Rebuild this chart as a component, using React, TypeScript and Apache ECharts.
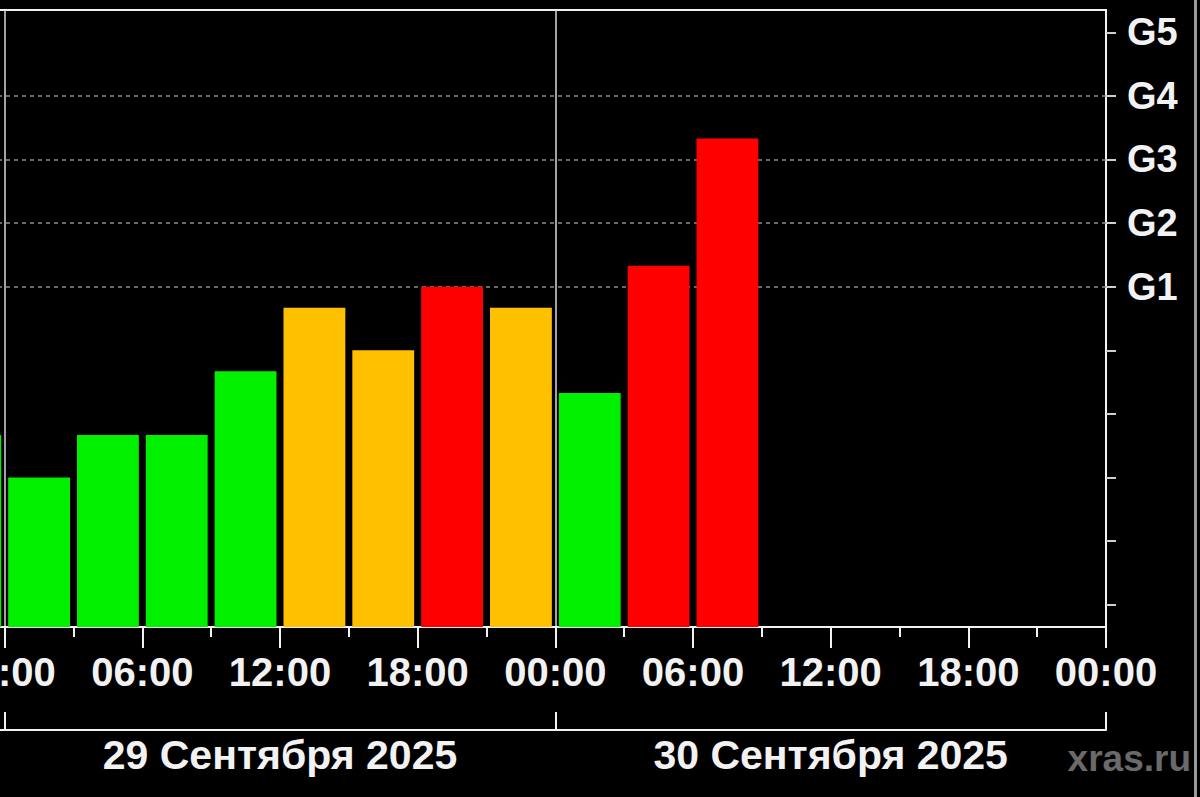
import { useEffect, useRef } from 'react';
import * as echarts from 'echarts';

// Kp index per 3-hour slot, start hour counted from 29 Sep 2025 00:00
const slotStarts = [-3, 0, 3, 6, 9, 12, 15, 18, 21, 24, 27, 30];
const kpValues = [2.67, 2.0, 2.67, 2.67, 3.67, 4.67, 4.0, 5.0, 4.67, 3.33, 5.33, 7.33];
const dayLabels = ['28 Сентября 2025', '29 Сентября 2025', '30 Сентября 2025'];
const kpTicks = [0, 1, 2, 3, 4, 5, 6, 7, 8, 9];
const stormLevels = [5, 6, 7, 8, 9]; // G1..G5
const dashedLevels = [5, 6, 7, 8];

const X_MIN = -24;
const X_MAX = 48;
const Y_MIN = -0.35;
const Y_MAX = 9.35;
const SLOT = 3;

const SHIFT = 560;
const FONT = '"Liberation Sans", Arial, sans-serif';
const WHITE = '#f2f2f2';

const kpColor = (kp: number) => (kp >= 5 ? '#ff0000' : kp >= 4 ? '#ffc000' : '#00f000');

// hours before the first shown day lie outside the picture
const hourLabel = (v: number) => {
  if (v < 0) return '';
  const h = ((v % 24) + 24) % 24;
  return String(h).padStart(2, '0') + ':00';
};

const KpChart = () => {
  const chartRef = useRef<HTMLDivElement>(null);

  useEffect(() => {
    document.body.style.margin = '0';
    document.body.style.background = '#000';
    if (!chartRef.current) return;
    const myChart = echarts.init(chartRef.current, null, { renderer: 'svg' });

    const option: any = {
      animation: false,
      backgroundColor: '#000',
      grid: {
        left: 14,
        right: 94,
        top: 10,
        bottom: 170,
        show: true,
        borderColor: WHITE,
        borderWidth: 2,
        containLabel: false,
        outerBoundsMode: 'none',
      },
      xAxis: [
        {
          type: 'value',
          min: X_MIN,
          max: X_MAX,
          interval: 6,
          position: 'bottom',
          axisLine: { show: true, onZero: false, lineStyle: { color: WHITE, width: 2 } },
          axisTick: { show: true, length: 21, lineStyle: { color: WHITE, width: 2 } },
          minorTick: { show: true, splitNumber: 2, length: 10, lineStyle: { color: WHITE, width: 2 } },
          splitLine: { show: false },
          axisLabel: {
            color: WHITE,
            fontFamily: FONT,
            fontWeight: 'bold',
            fontSize: 40,
            margin: 25,
            showMaxLabel: true,
            formatter: hourLabel,
          },
        },
        {
          type: 'category',
          data: dayLabels,
          position: 'bottom',
          offset: 103,
          axisLine: { show: true, onZero: false, lineStyle: { color: WHITE, width: 2 } },
          axisTick: { show: true, inside: true, length: 18, interval: 0, lineStyle: { color: WHITE, width: 2 } },
          splitLine: { show: true, interval: 0, lineStyle: { color: '#d8d8d8', width: 1.5 } },
          axisLabel: {
            color: WHITE,
            fontFamily: FONT,
            fontWeight: 'bold',
            fontSize: 41,
            margin: 4,
            interval: 0,
            formatter: (v: string, i: number) => (i === 0 ? '' : v),
          },
        },
      ],
      yAxis: {
        type: 'value',
        position: 'right',
        min: Y_MIN,
        max: Y_MAX,
        axisLine: { show: true, onZero: false, lineStyle: { color: WHITE, width: 2 } },
        axisTick: {
          show: true,
          length: 10,
          customValues: kpTicks,
          lineStyle: { color: '#cfcfcf', width: 2 },
        },
        splitLine: { show: false },
        axisLabel: {
          color: WHITE,
          fontFamily: FONT,
          fontWeight: 'bold',
          fontSize: 38,
          margin: 21,
          customValues: stormLevels,
          formatter: (v: number) => 'G' + Math.round(v - 4),
        },
      },
      series: [
        {
          type: 'line',
          data: [],
          z: 1,
          markLine: {
            silent: true,
            symbol: 'none',
            z: 1,
            label: { show: false },
            lineStyle: { color: '#8c8c8c', width: 1.5, type: [4, 4] },
            data: dashedLevels.map((v) => ({ yAxis: v })),
          },
        },
        {
          type: 'custom',
          z: 3,
          xAxisIndex: 0,
          yAxisIndex: 0,
          encode: { x: 0, y: 1 },
          data: slotStarts.map((s, i) => [s, kpValues[i]]),
          renderItem: (_params: any, api: any) => {
            const start = api.value(0);
            const kp = api.value(1);
            const topLeft = api.coord([start, kp]);
            const bottomRight = api.coord([start + SLOT, Y_MIN]);
            const gap = 3.5;
            return {
              type: 'rect',
              shape: {
                x: topLeft[0] + gap,
                y: topLeft[1],
                width: bottomRight[0] - topLeft[0] - 2 * gap,
                height: bottomRight[1] - topLeft[1],
              },
              style: { fill: kpColor(kp) },
            };
          },
        },
      ],
      graphic: [
        {
          type: 'text',
          right: 9,
          top: 740,
          z: 100,
          style: {
            text: 'xras.ru',
            fill: '#6a6a6a',
            font: 'bold 37px "Liberation Sans", Arial, sans-serif',
          },
        },
      ],
    };

    myChart.setOption(option);

    return () => {
      myChart.dispose();
    };
  }, []);

  return (
    <div style={{ position: 'relative', width: 1200, height: 797, overflow: 'hidden', background: '#000' }}>
      <div
        ref={chartRef}
        style={{ position: 'absolute', left: -SHIFT, top: 0, width: 1200 + SHIFT, height: 797 }}
      />
      <div style={{ position: 'absolute', left: 1194, top: 0, width: 3, height: 797, background: '#9a9a9a' }} />
    </div>
  );
};

export default function App() {
  return <KpChart />;
}
